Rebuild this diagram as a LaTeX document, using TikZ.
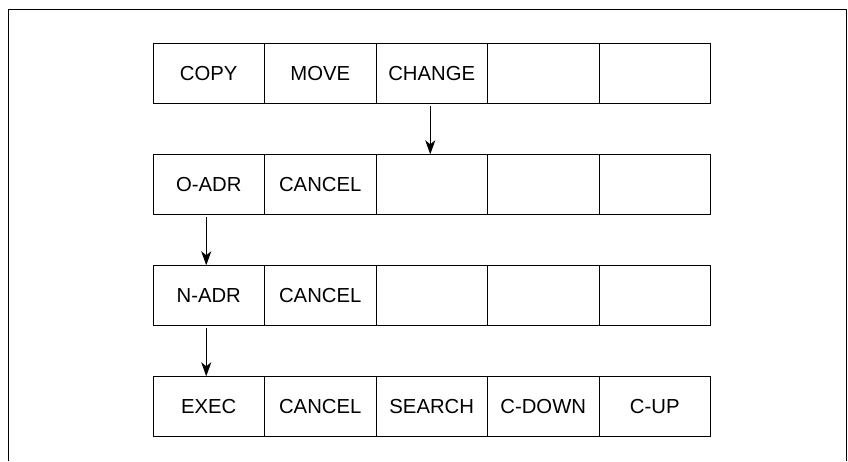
\documentclass[tikz,border=0pt]{standalone}
\usepackage{fontspec}
\setmainfont{Liberation Sans}
\usetikzlibrary{positioning,arrows.meta}

\begin{document}
\begin{tikzpicture}[
  x=1pt, y=-1pt,
  >={Stealth[length=14pt,width=10pt,inset=4pt]},
  keybox/.style={
    rectangle, draw, line width=0.9pt, minimum width=111.5pt,
    minimum height=60.5pt, inner sep=0pt, outer sep=0pt,
    font=\fontsize{20.3}{23}\selectfont
  },
  keyarrow/.style={->, line width=0.9pt, shorten <=2.5pt}
]
\useasboundingbox (0,0) rectangle (848,461);

% outer frame, open at the bottom
\draw[line width=1.7pt] (8.5,461) -- (8.5,9.5) -- (846.5,9.5) -- (846.5,461);

% row 1
\node[keybox, anchor=north west] (copy) at (153,43.3) {COPY};
\node[keybox, right=0pt of copy] (move) {MOVE};
\node[keybox, right=0pt of move] (change) {CHANGE};
\node[keybox, right=0pt of change] (r1d) {};
\node[keybox, right=0pt of r1d] (r1e) {};

% row 2
\node[keybox, below=50.5pt of copy] (oadr) {O-ADR};
\node[keybox, right=0pt of oadr] (cancela) {CANCEL};
\node[keybox, right=0pt of cancela] (r2c) {};
\node[keybox, right=0pt of r2c] (r2d) {};
\node[keybox, right=0pt of r2d] (r2e) {};

% row 3
\node[keybox, below=50.5pt of oadr] (nadr) {N-ADR};
\node[keybox, right=0pt of nadr] (cancelb) {CANCEL};
\node[keybox, right=0pt of cancelb] (r3c) {};
\node[keybox, right=0pt of r3c] (r3d) {};
\node[keybox, right=0pt of r3d] (r3e) {};

% row 4
\node[keybox, below=50.5pt of nadr] (exec) {EXEC};
\node[keybox, right=0pt of exec] (cancelc) {CANCEL};
\node[keybox, right=0pt of cancelc] (search) {SEARCH};
\node[keybox, right=0pt of search] (cdown) {C-DOWN};
\node[keybox, right=0pt of cdown] (cup) {C-UP};

% arrows
\draw[keyarrow] ([xshift=-1.5pt]change.south) -- ([xshift=-1.5pt]r2c.north);
\draw[keyarrow] ([xshift=-2.5pt]oadr.south) -- ([xshift=-2.5pt]nadr.north);
\draw[keyarrow] ([xshift=-2.5pt]nadr.south) -- ([xshift=-2.5pt]exec.north);

\end{tikzpicture}
\end{document}
